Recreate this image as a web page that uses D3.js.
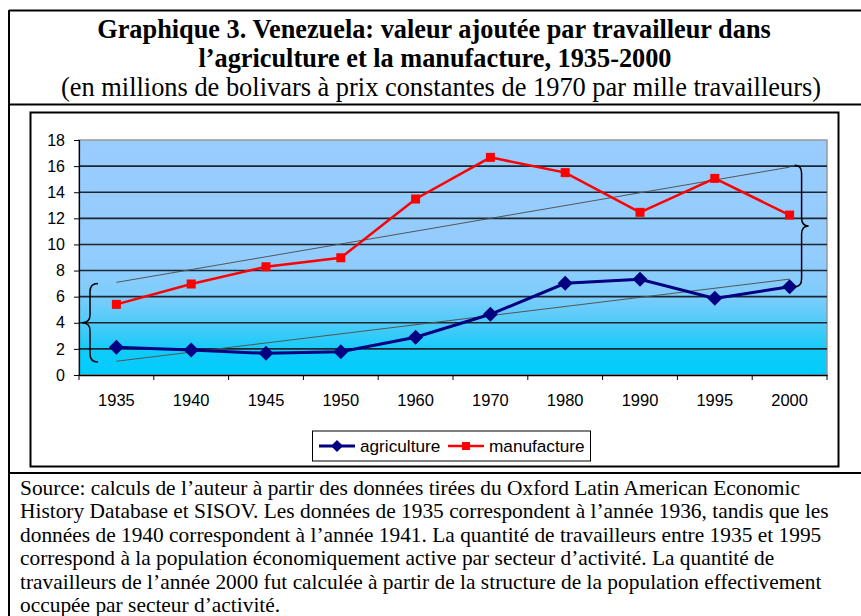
<!DOCTYPE html>
<html>
<head>
<meta charset="utf-8">
<script src="https://cdn.jsdelivr.net/npm/d3@7"></script>
<style>
  html, body { margin: 0; padding: 0; background: #fff; }
  svg { display: block; }
</style>
</head>
<body>
<svg id="chart" width="861" height="616"></svg>
<script>
// ---- Data ----
const years = ["1935", "1940", "1945", "1950", "1960", "1970", "1980", "1990", "1995", "2000"];
const agriculture = [2.12, 1.91, 1.66, 1.78, 2.89, 4.65, 7.02, 7.33, 5.87, 6.76];
const manufacture = [5.41, 6.97, 8.29, 8.98, 13.48, 16.67, 15.5, 12.46, 15.06, 12.25];
const yTicks = [0, 2, 4, 6, 8, 10, 12, 14, 16, 18];
const seriesNames = ["agriculture", "manufacture"];
const titleLines = [
  "Graphique 3. Venezuela: valeur ajoutée par travailleur dans",
  "l’agriculture et la manufacture, 1935-2000"
];
const subtitle = "(en millions de bolivars à prix constantes de 1970 par mille travailleurs)";
const sourceLines = [
  "Source: calculs de l’auteur à partir des données tirées du Oxford Latin American Economic",
  "History Database et SISOV. Les données de 1935 correspondent à l’année 1936, tandis que les",
  "données de 1940 correspondent à l’année 1941. La quantité de travailleurs entre 1935 et 1995",
  "correspond à la population économiquement active par secteur d’activité. La quantité de",
  "travailleurs de l’année 2000 fut calculée à partir de la structure de la population effectivement",
  "occupée par secteur d’activité."
];

const svg = d3.select("#chart");
const serif = "'Liberation Serif', 'Times New Roman', serif";
const sans = "'Liberation Sans', Arial, sans-serif";

// ---- Outer table frame ----
const frame = svg.append("g");
frame.append("line").attr("x1", 9).attr("x2", 861).attr("y1", 10.5).attr("y2", 10.5).attr("stroke", "#000").attr("stroke-width", 2);
frame.append("line").attr("x1", 9).attr("x2", 9).attr("y1", 10).attr("y2", 616).attr("stroke", "#000").attr("stroke-width", 2);
frame.append("line").attr("x1", 9).attr("x2", 861).attr("y1", 104.5).attr("y2", 104.5).attr("stroke", "#000").attr("stroke-width", 2);
frame.append("line").attr("x1", 9).attr("x2", 861).attr("y1", 473).attr("y2", 473).attr("stroke", "#000").attr("stroke-width", 2);

// ---- Titles ----
svg.append("text").attr("x", 434).attr("y", 38).attr("text-anchor", "middle")
  .style("font-family", serif).style("font-weight", "bold").style("font-size", "26.3px")
  .text(titleLines[0]);
svg.append("text").attr("x", 435).attr("y", 67).attr("text-anchor", "middle")
  .style("font-family", serif).style("font-weight", "bold").style("font-size", "26.3px")
  .text(titleLines[1]);
svg.append("text").attr("x", 441).attr("y", 96).attr("text-anchor", "middle")
  .style("font-family", serif).style("font-size", "26.4px")
  .text(subtitle);

// ---- Chart frame ----
svg.append("rect").attr("x", 30.5).attr("y", 112.5).attr("width", 808).attr("height", 354)
  .attr("fill", "#fff").attr("stroke", "#000").attr("stroke-width", 2);

// ---- Scales ----
const plot = { left: 79, right: 827, top: 140, bottom: 375 };
const x = d3.scaleBand().domain(years).range([plot.left, plot.right]).paddingInner(0).paddingOuter(0);
const y = d3.scaleLinear().domain([0, 18]).range([plot.bottom, plot.top]);
const cx = d => x(d) + x.bandwidth() / 2;

// ---- Plot background gradient ----
const defs = svg.append("defs");
const grad = defs.append("linearGradient").attr("id", "bg").attr("x1", 0).attr("y1", 0).attr("x2", 0).attr("y2", 1);
grad.append("stop").attr("offset", "0%").attr("stop-color", "#99CCFF");
grad.append("stop").attr("offset", "50%").attr("stop-color", "#93CCFE");
grad.append("stop").attr("offset", "66%").attr("stop-color", "#7ECDFC");
grad.append("stop").attr("offset", "78%").attr("stop-color", "#4FCBF9");
grad.append("stop").attr("offset", "90%").attr("stop-color", "#10CBF9");
grad.append("stop").attr("offset", "100%").attr("stop-color", "#00CCFF");

svg.append("rect").attr("x", plot.left).attr("y", plot.top)
  .attr("width", plot.right - plot.left).attr("height", plot.bottom - plot.top)
  .attr("fill", "url(#bg)").attr("stroke", "#999").attr("stroke-width", 1.5);

// ---- Gridlines ----
svg.append("g").selectAll("line").data(yTicks.filter(t => t > 0 && t < 18)).join("line")
  .attr("x1", plot.left).attr("x2", plot.right)
  .attr("y1", d => y(d)).attr("y2", d => y(d))
  .attr("stroke", "#1c2633").attr("stroke-width", 1.6);

// ---- Axes ----
const yAxis = svg.append("g").attr("transform", `translate(${plot.left},0)`)
  .call(d3.axisLeft(y).tickValues(yTicks).tickSize(5).tickPadding(9));
yAxis.select(".domain").attr("stroke", "#000").attr("stroke-width", 1.2);
yAxis.selectAll(".tick line").attr("stroke", "#000");
yAxis.selectAll("text").style("font-family", sans).style("font-size", "16px").attr("fill", "#000");

const xAxis = svg.append("g").attr("transform", `translate(0,${plot.bottom})`)
  .call(d3.axisBottom(x).tickSize(0).tickPadding(19));
xAxis.select(".domain").attr("stroke", "#000").attr("stroke-width", 1.5);
xAxis.selectAll("text").style("font-family", sans).style("font-size", "16.5px").attr("fill", "#000");
// ticks at category boundaries
svg.append("g").selectAll("line").data(years.concat(["end"])).join("line")
  .attr("x1", (d, i) => i < years.length ? x(d) : plot.right)
  .attr("x2", (d, i) => i < years.length ? x(d) : plot.right)
  .attr("y1", plot.bottom).attr("y2", plot.bottom + 5)
  .attr("stroke", "#000").attr("stroke-width", 1);

// ---- Trend lines (least-squares over category index) ----
function trend(vals) {
  const n = vals.length;
  const mx = (n - 1) / 2;
  const my = d3.mean(vals);
  let sxy = 0, sxx = 0;
  vals.forEach((v, i) => { sxy += (i - mx) * (v - my); sxx += (i - mx) * (i - mx); });
  const b = sxy / sxx, a = my - b * mx;
  return [[0, a], [n - 1, a + b * (n - 1)]];
}
const trends = [trend(agriculture), trend(manufacture)];
svg.append("g").selectAll("line").data(trends).join("line")
  .attr("x1", d => cx(years[d[0][0]])).attr("y1", d => y(d[0][1]))
  .attr("x2", d => cx(years[d[1][0]])).attr("y2", d => y(d[1][1]))
  .attr("stroke", "#555").attr("stroke-width", 1);

// ---- Series ----
const line = d3.line().x((d, i) => cx(years[i])).y(d => y(d));
svg.append("path").datum(manufacture).attr("d", line)
  .attr("fill", "none").attr("stroke", "#FF0000").attr("stroke-width", 2.5);
svg.append("path").datum(agriculture).attr("d", line)
  .attr("fill", "none").attr("stroke", "#000080").attr("stroke-width", 3);

svg.append("g").selectAll("rect").data(manufacture).join("rect")
  .attr("x", (d, i) => cx(years[i]) - 4.5).attr("y", d => y(d) - 4.5)
  .attr("width", 9).attr("height", 9).attr("fill", "#FF0000");

const diamond = (px, py, r) => `M${px},${py - r}L${px + r},${py}L${px},${py + r}L${px - r},${py}Z`;
svg.append("g").selectAll("path").data(agriculture).join("path")
  .attr("d", (d, i) => diamond(cx(years[i]), y(d), 7.5)).attr("fill", "#000080");

// ---- Braces ----
function braceLeft(xStem, yTop, yBot, w) {
  const yMid = (yTop + yBot) / 2, r = 8;
  return `M${xStem + w},${yTop} Q${xStem},${yTop} ${xStem},${yTop + r} L${xStem},${yMid - r} Q${xStem},${yMid} ${xStem - w},${yMid} Q${xStem},${yMid} ${xStem},${yMid + r} L${xStem},${yBot - r} Q${xStem},${yBot} ${xStem + w},${yBot}`;
}
function braceRight(xStem, yTop, yBot, w) {
  const yMid = (yTop + yBot) / 2, r = 8;
  return `M${xStem - w},${yTop} Q${xStem},${yTop} ${xStem},${yTop + r} L${xStem},${yMid - r} Q${xStem},${yMid} ${xStem + w},${yMid} Q${xStem},${yMid} ${xStem},${yMid + r} L${xStem},${yBot - r} Q${xStem},${yBot} ${xStem - w},${yBot}`;
}
const x0 = x(years[0]);
svg.append("path").attr("d", braceLeft(x0 + 11, y(7), y(1), 8))
  .attr("fill", "none").attr("stroke", "#000").attr("stroke-width", 1.5);
const xl = cx(years[years.length - 1]);
svg.append("path").attr("d", braceRight(xl + 12, y(trends[1][1][1] + 0.15), y(agriculture[agriculture.length - 1]), 7))
  .attr("fill", "none").attr("stroke", "#000").attr("stroke-width", 1.5);

// ---- Legend ----
const lg = svg.append("g");
lg.append("rect").attr("x", 312.5).attr("y", 431).attr("width", 278).attr("height", 30)
  .attr("fill", "#fff").attr("stroke", "#000").attr("stroke-width", 1);
const legendItems = [
  { name: seriesNames[0], color: "#000080", x: 319, marker: "diamond" },
  { name: seriesNames[1], color: "#FF0000", x: 448, marker: "square" }
];
legendItems.forEach(it => {
  lg.append("line").attr("x1", it.x).attr("x2", it.x + 36).attr("y1", 446).attr("y2", 446)
    .attr("stroke", it.color).attr("stroke-width", it.marker === "diamond" ? 3 : 2.5);
  if (it.marker === "diamond") {
    lg.append("path").attr("d", diamond(it.x + 18, 446, 6)).attr("fill", it.color);
  } else {
    lg.append("rect").attr("x", it.x + 14).attr("y", 442).attr("width", 8).attr("height", 8).attr("fill", it.color);
  }
  lg.append("text").attr("x", it.x + 41).attr("y", 452)
    .style("font-family", sans).style("font-size", "17.2px").text(it.name);
});

// ---- Source note ----
svg.append("g").selectAll("text").data(sourceLines).join("text")
  .attr("x", 20).attr("y", (d, i) => 495 + i * 23.4)
  .style("font-family", serif).style("font-size", "21.4px")
  .text(d => d);
</script>
</body>
</html>
